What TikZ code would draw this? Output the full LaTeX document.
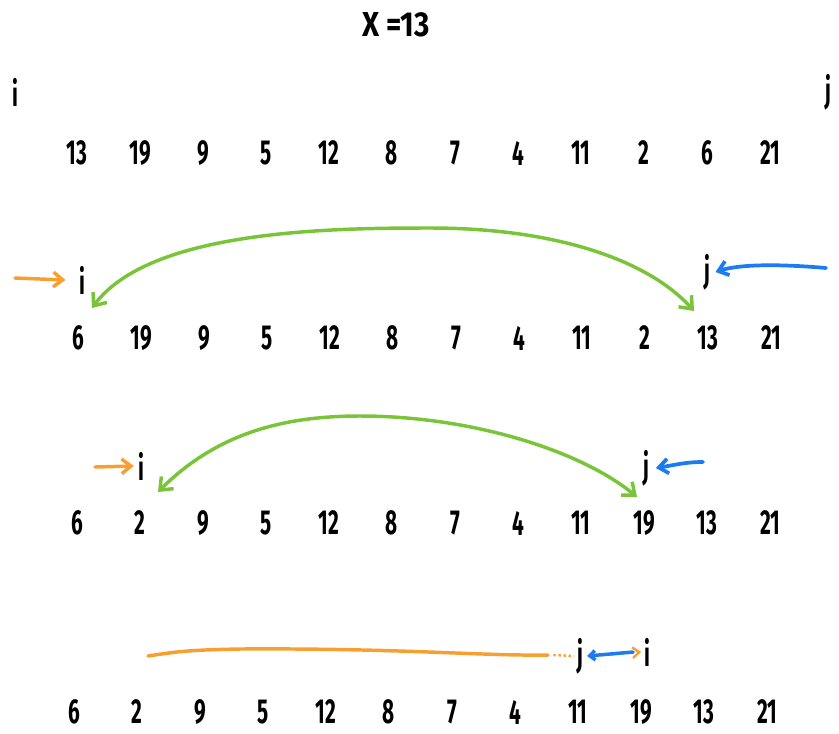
\documentclass[tikz,border=0pt]{standalone}
\usepackage{fontspec}
\setmainfont{Fira Sans}
\usetikzlibrary{arrows.meta}
\definecolor{hgreen}{HTML}{7AC43A}
\definecolor{horange}{HTML}{F7A030}
\definecolor{hblue}{HTML}{1A7CF0}
\newcommand{\hw}[1]{\scalebox{0.6}[1]{\bfseries #1}}
\newcommand{\hwt}[1]{\scalebox{0.85}[1]{\bfseries #1}}
\tikzset{
  num/.style={inner sep=0pt, font=\fontsize{26}{28}\selectfont},
  ptr/.style={inner sep=0pt, font=\fontsize{26}{28}\selectfont},
  swaparc/.style={draw=hgreen, line width=2.6pt, line cap=round, {Straight Barb[length=8pt,width=13pt]}-{Straight Barb[length=8pt,width=13pt]}},
  moveo/.style={draw=horange, line width=2.6pt, line cap=round, -{Straight Barb[length=7pt,width=11pt]}},
  moveb/.style={draw=hblue, line width=2.8pt, line cap=round, -{Straight Barb[length=7pt,width=11pt]}},
}
\begin{document}
\begin{tikzpicture}[x=0.75pt,y=-0.75pt]
\useasboundingbox (0,0) rectangle (839,733);
\node[num] (title) at (396,25) {\hwt{X =13}};
% row 1
\node[ptr] (i1) at (15,92) {\hw{i}};
\node[ptr] (j1) at (828,92) {\hw{j}};
\foreach \v [count=\k from 0] in {13,19,9,5,12,8,7,4,11,2,6,21}
  \node[num] (a\k) at (77+63*\k,153) {\hw{\v}};
% row 2
\foreach \v [count=\k from 0] in {6,19,9,5,12,8,7,4,11,2,13,21}
  \node[num] (b\k) at (78+63*\k,338) {\hw{\v}};
\node[ptr] (i2) at (82,280) {\hw{i}};
\node[ptr] (j2) at (707,272) {\hw{j}};
\coordinate (o2) at (15,278);
\coordinate (bl2) at (826,268);
\draw[moveo] (o2) -- ([xshift=-10pt]i2.west);
\draw[moveb] (bl2) .. controls (780,264) and (740,264) .. ([xshift=4pt]j2.east);
\coordinate (g2l) at (92,308);
\coordinate (g2r) at (694,311);
\draw[swaparc] (g2l) .. controls (150,230) and (330,228) .. (430,228) .. controls (560,228) and (650,262) .. (g2r);
% row 3
\foreach \v [count=\k from 0] in {6,2,9,5,12,8,7,4,11,19,13,21}
  \node[num] (c\k) at (77+63*\k,523) {\hw{\v}};
\node[ptr] (i3) at (141,466) {\hw{i}};
\node[ptr] (j3) at (646,468) {\hw{j}};
\coordinate (o3) at (95,467);
\coordinate (bl3) at (703,462);
\draw[moveo] (o3) -- ([xshift=-3pt]i3.west);
\draw[moveb] (bl3) .. controls (685,462) and (675,465) .. ([xshift=5pt]j3.east);
\coordinate (g3l) at (158,492);
\coordinate (g3r) at (637,497);
\draw[swaparc] (g3l) .. controls (220,430) and (290,416) .. (360,416) .. controls (470,416) and (580,450) .. (g3r);
% row 4
\foreach \v [count=\k from 0] in {6,2,9,5,12,8,7,4,11,19,13,21}
  \node[num] (d\k) at (74+63*\k,712) {\hw{\v}};
\node[ptr] (j4) at (580,656) {\hw{j}};
\node[ptr] (i4) at (647,652) {\hw{i}};
\coordinate (o4) at (148,656);
\coordinate (o4e) at (548,655);
\draw[draw=horange, line width=2.6pt, line cap=round] (o4) .. controls (175,652) and (185,650) .. (240,649) .. controls (400,648) and (480,656) .. (o4e);
\draw[draw=horange, line width=1.8pt, dotted] ([xshift=4pt]o4e) -- ([xshift=-2pt]j4.west);
\draw[draw=horange, line width=1.8pt, dotted, -{Straight Barb[length=5pt,width=8pt]}] ([xshift=6pt]j4.east) -- ([xshift=-2pt]i4.west);
\draw[draw=hblue, line width=2.6pt, line cap=round, -{Straight Barb[length=4pt,width=7pt]}] ([xshift=-8pt]i4.west) -- ([xshift=3pt]j4.east);
\end{tikzpicture}
\end{document}
